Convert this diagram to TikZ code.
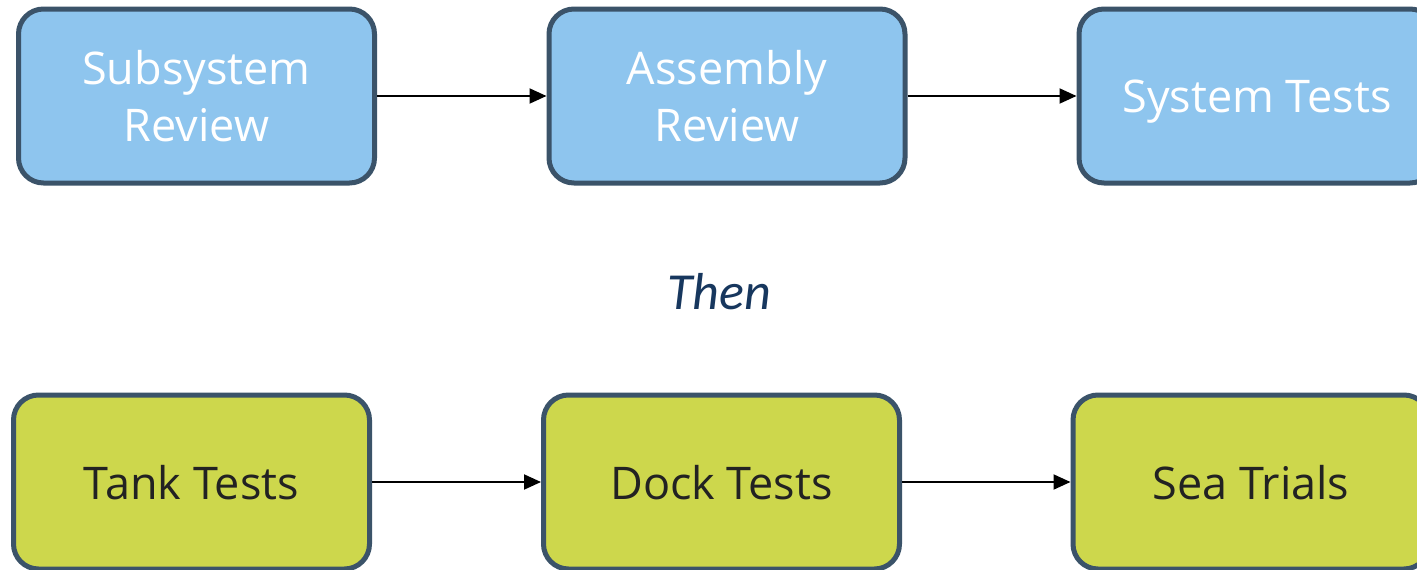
\documentclass[tikz,border=0pt]{standalone}
\usepackage{fontspec}
\setmainfont{Open Sans}
\newfontfamily\thenfont{Carlito}
\usetikzlibrary{arrows.meta}
\definecolor{boxedge}{HTML}{3B5369}
\definecolor{bluefill}{HTML}{8EC5EE}
\definecolor{greenfill}{HTML}{CDD74C}
\definecolor{darktext}{HTML}{222222}
\definecolor{thenblue}{HTML}{17375E}
\tikzset{
  stage/.style={draw=boxedge, line width=5pt, rounded corners=25pt,
    minimum width=356pt, minimum height=174pt, align=center,
    font=\fontsize{45}{57}\selectfont},
  oneline/.style={text depth=0pt},
  bluestage/.style={stage, fill=bluefill, text=white},
  greenstage/.style={stage, fill=greenfill, text=darktext, oneline},
  flow/.style={line width=2pt, -{Triangle[length=17pt,width=15pt]}}
}
\begin{document}
\begin{tikzpicture}[x=1pt, y=-1pt]
  \useasboundingbox (0,0) rectangle (1417,570);
  \clip (0,0) rectangle (1417,570);
  \fill[white] (0,0) rectangle (1417,570);
  % review stages
  \node[bluestage] (sub) at (196.5,96) {Subsystem\\Review};
  \node[bluestage] (asm) at (727,96) {Assembly\\Review};
  \node[bluestage, oneline] (sys) at (1257,96) {System Tests};
  % connecting word
  \node[font=\thenfont\itshape\fontsize{52}{56}\selectfont, text=thenblue] (then) at (719,292) {Then};
  % trial stages
  \node[greenstage] (tank) at (191.5,482) {Tank Tests};
  \node[greenstage] (dock) at (721.5,482) {Dock Tests};
  \node[greenstage] (sea) at (1251,482) {Sea Trials};
  % sequence arrows
  \draw[flow] (sub.east) -- (asm.west);
  \draw[flow] (asm.east) -- (sys.west);
  \draw[flow] (tank.east) -- (dock.west);
  \draw[flow] (dock.east) -- (sea.west);
\end{tikzpicture}
\end{document}
